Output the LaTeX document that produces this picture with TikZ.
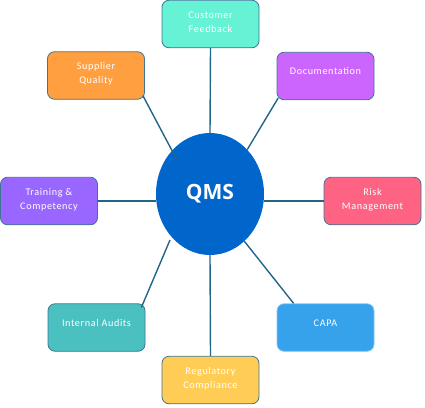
\documentclass[tikz,border=0pt]{standalone}
\usepackage{fontspec}
\setmainfont{Carlito}[LetterSpace=6]
\newfontfamily\qmsfont{Open Sans}
\usetikzlibrary{shapes.geometric}
\definecolor{linkc}{HTML}{22658A}
\definecolor{edgec}{HTML}{3D7595}
\definecolor{cfc}{HTML}{66F2D4}
\definecolor{sqc}{HTML}{FF9F40}
\definecolor{docc}{HTML}{CC65FE}
\definecolor{tcc}{HTML}{9966FF}
\definecolor{riskc}{HTML}{FF6384}
\definecolor{iac}{HTML}{4BC0C0}
\definecolor{capac}{HTML}{36A2EB}
\definecolor{rcc}{HTML}{FFCD56}
\definecolor{qmsc}{HTML}{0066CC}
\begin{document}
\begin{tikzpicture}[x=1pt,y=-1pt,
  box/.style={draw=edgec, line width=0.8pt, rounded corners=7pt,
    minimum width=97pt, minimum height=47.5pt, text=white,
    font=\fontsize{10.2}{14}\selectfont, align=center, inner sep=0pt},
  oneline/.style={text height=7pt, text depth=10pt},
  twoline/.style={text height=21.5pt, text depth=5pt},
  link/.style={draw=linkc, line width=1.4pt}]
\useasboundingbox (0,0) rectangle (425,407);

\node[ellipse, fill=qmsc, minimum width=108pt, minimum height=122pt, inner sep=0pt,
  text=white, font=\qmsfont\bfseries\fontsize{21}{24}\selectfont] (qms) at (210,194) {QMS};

\node[box, twoline, fill=cfc]   (cf)   at (210.5,24)   {Customer\\Feedback};
\node[box, twoline, fill=sqc]   (sq)   at (96,75.5)    {Supplier\\Quality};
\node[box, oneline, fill=docc]  (doc)  at (325.5,76)   {Documentation};
\node[box, twoline, fill=tcc]   (tc)   at (49,201)     {Training \&\\Competency};
\node[box, twoline, fill=riskc] (risk) at (372.5,201)  {Risk\\Management};
\node[box, oneline, fill=iac]   (ia)   at (96.5,327.5) {Internal Audits};
\node[box, oneline, fill=capac, draw=capac!60!white] (capa) at (325.5,327.5) {CAPA};
\node[box, twoline, fill=rcc]   (rc)   at (210.5,380)  {Regulatory\\Compliance};

\coordinate (sqin) at (177,160);
\coordinate (iain) at (170,240);

\draw[link] (cf.south) -- (qms.north);
\draw[link] ([shift={(-2,-4)}]sq.south east) -- (sqin);
\draw[link] ([shift={(1.5,-2)}]doc.south west) -- (qms.50);
\draw[link] (tc.east) -- (tc.east -| qms.west);
\draw[link] (risk.west) -- (risk.west -| qms.east);
\draw[link] (iain) -- ([shift={(-4,4)}]ia.north east);
\draw[link] (qms.-54) -- ([shift={(17,0)}]capa.north west);
\draw[link] (qms.south) -- (rc.north);
\end{tikzpicture}
\end{document}
